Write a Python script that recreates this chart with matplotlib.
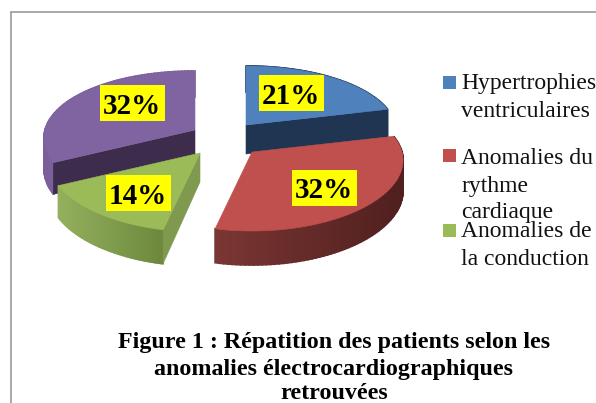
import numpy as np
import matplotlib
matplotlib.use("Agg")
import matplotlib.pyplot as plt
from matplotlib.colors import to_rgb
from matplotlib.patches import Polygon, Rectangle

# %% data
categories = ["Hypertrophies\nventriculaires", "Anomalies du\nrythme\ncardiaque",
              "Anomalies de\nla conduction", ""]
values = [21, 32, 14, 32]
value_labels = ["21%", "32%", "14%", "32%"]
caption = ["Figure 1 : Répatition des patients selon les",
           "anomalies électrocardiographiques",
           "retrouvées"]

# %% style, all in pixels of the picture
top_colors = ["#4f81bd", "#c0504d", "#9bbb59", "#8064a2"]
wall_left = ["#1f3552", "#7b3634", "#93b05e", "#7b5f9b"]
wall_right = ["#1f3552", "#4f201e", "#6d883c", "#7b5f9b"]
cut_colors = ["#1f3552", "#4f201e", "#7f9a4e", "#3d2c4b"]
apex = [(246, 125), (252, 152), (200, 153), (195, 130)]
cut_side = ["end", None, "start", "start"]   # which cut edge faces the viewer
label_pos = [(291, 93), (324, 188), (138, 193), (132, 103)]
legend_y = [(89, 117), (164, 192, 218), (237, 265)]
swatch_y = [76, 149, 224]
caption_y = [348, 375, 399]
draw_order = [3, 0, 2, 1]

plt.rcParams["font.family"] = ["Liberation Serif", "DejaVu Serif"]

fig = plt.figure(figsize=(5.96, 4.03), dpi=100)
ax = fig.add_axes([0, 0, 1, 1])
ax.set_xlim(0, 596)
ax.set_ylim(403, 0)
ax.axis("off")


def rim(theta):
    # perspective: the front of the pie is wider and lower than the back
    u, v = np.sin(theta), -np.cos(theta)
    return 150 * u * (1 + 0.12 * v), v * (69 + 10 * v)


def depth(theta):
    return 30 - 4 * np.cos(theta)


# frame of the chart area
ax.plot([10.5, 10.5, 596], [403, 11.5, 11.5], color="#a3a3a3", lw=1.3, solid_joinstyle="miter")

edges = np.radians(np.cumsum([0] + values) / sum(values) * 360)

for i in draw_order:
    ax0, ay0 = apex[i]
    theta = np.linspace(edges[i], edges[i + 1], 80)
    x, y = rim(theta)
    x, y = x + ax0, y + ay0

    # outer wall, from left to right on screen
    c_left, c_right = np.array(to_rgb(wall_left[i])), np.array(to_rgb(wall_right[i]))
    for k in range(len(theta) - 1):
        d0, d1 = depth(theta[k]), depth(theta[k + 1])
        t = (x[k] - x.min()) / (x.max() - x.min())
        col = c_left + (c_right - c_left) * t
        ax.add_patch(Polygon([(x[k], y[k]), (x[k + 1], y[k + 1]), (x[k + 1], y[k + 1] + d1), (x[k], y[k] + d0)],
                             closed=True, fc=col, ec=col, lw=1.2, zorder=1))

    # cut face
    if cut_side[i]:
        j = 0 if cut_side[i] == "start" else -1
        d_apex, d_rim = 29, depth(theta[j])
        ax.add_patch(Polygon([(ax0, ay0), (x[j], y[j]), (x[j], y[j] + d_rim), (ax0, ay0 + d_apex)],
                             closed=True, fc=cut_colors[i], ec=cut_colors[i], lw=0.4, zorder=1))

    # top
    ax.add_patch(Polygon(np.column_stack([np.r_[ax0, x], np.r_[ay0, y]]), closed=True,
                         fc=top_colors[i], ec=top_colors[i], lw=0.4, zorder=1))

# value labels on yellow boxes
for text, (lx, ly) in zip(value_labels, label_pos):
    ax.add_patch(Rectangle((lx - 32.5, ly - 18), 65, 36, fc="#ffff00", ec="none", zorder=2))
    ax.text(lx, ly, text, ha="center", va="center_baseline", fontsize=21, fontweight="bold", color="black", zorder=3)

# legend (the fourth entry is cut off in the picture)
for name, color, ys, sy in zip(categories, top_colors, legend_y, swatch_y):
    ax.add_patch(Rectangle((443, sy), 12.5, 12.5, fc=color, ec="none", zorder=2))
    for line, by in zip(name.split("\n"), ys):
        ax.text(461, by, line, ha="left", va="baseline", fontsize=17, color="#111111", zorder=3)

for line, by in zip(caption, caption_y):
    ax.text(334, by, line, ha="center", va="baseline", fontsize=17.3, fontweight="bold", color="black", zorder=3)

fig.savefig("out.png", dpi=100)
